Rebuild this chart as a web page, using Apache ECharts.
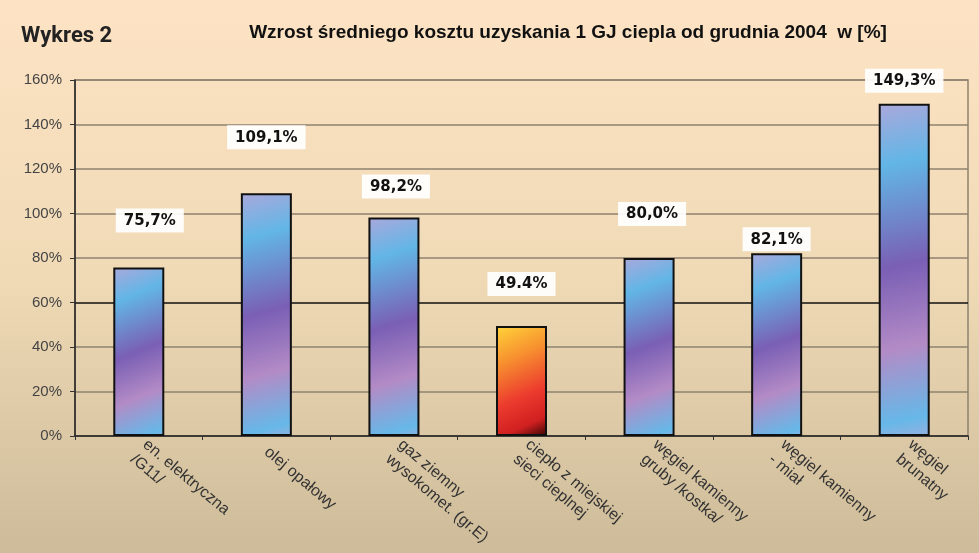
<!DOCTYPE html>
<html>
<head>
<meta charset="UTF-8">
<title>Wykres 2</title>
<script src="https://cdn.jsdelivr.net/npm/echarts@6/dist/echarts.min.js"></script>
<style>
  html, body { margin: 0; padding: 0; }
  #main { width: 979px; height: 553px; }
</style>
</head>
<body>
<div id="main"></div>
<script type="text/javascript">
// dane wykresu
var categories = [
  'en. elektryczna\n/G11/',
  'olej opałowy',
  'gaz ziemny\nwysokomet. (gr.E)',
  'ciepło z miejskiej\nsieci cieplnej',
  'węgiel kamienny\ngruby /kostka/',
  'węgiel kamienny\n- miał',
  'węgiel\nbrunatny'
];
var values = [75.7, 109.1, 98.2, 49.4, 80.0, 82.1, 149.3];
var valueLabels = ['75,7%', '109,1%', '98,2%', '49.4%', '80,0%', '82,1%', '149,3%'];
var yTicks = [0, 20, 40, 60, 80, 100, 120, 140, 160];

// przesuniecia etykiet (jak na oryginale)
var labelOffsets = [[11, -30], [0, -39], [2, -14], [0, -25], [3, -27], [0, 3], [0, -6]];

var myChart = echarts.init(document.getElementById('main'));

var blueFill = new echarts.graphic.LinearGradient(0, 0, 1.3, 1, [
  { offset: 0, color: '#aaa8dc' },
  { offset: 0.18, color: '#62b6e6' },
  { offset: 0.48, color: '#7a5fb5' },
  { offset: 0.72, color: '#b38bc6' },
  { offset: 0.93, color: '#66b8e8' },
  { offset: 1, color: '#9cb0e0' }
]);
var redFill = new echarts.graphic.LinearGradient(0, 0, 1, 1, [
  { offset: 0, color: '#ffd53a' },
  { offset: 0.3, color: '#f7902f' },
  { offset: 0.62, color: '#ec3b2e' },
  { offset: 0.85, color: '#d02020' },
  { offset: 1, color: '#350404' }
]);

// 60% linia jest czarna
var gridColors = yTicks.map(function (t) { return t === 60 ? '#111' : '#8f826f'; });

var barData = values.map(function (v, i) {
  return {
    value: v,
    itemStyle: { color: i === 3 ? redFill : blueFill },
    label: { offset: labelOffsets[i] }
  };
});

var option = {
  backgroundColor: new echarts.graphic.LinearGradient(0, 0, 0, 1, [
    { offset: 0, color: '#fde3c4' },
    { offset: 0.5, color: '#f0dab6' },
    { offset: 1, color: '#cdbb99' }
  ]),
  title: [
    {
      text: 'Wykres 2',
      left: 16,
      top: 20,
      textStyle: { fontFamily: 'Roboto', fontWeight: 'bold', fontSize: 22, color: '#222' }
    },
    {
      text: 'Wzrost średniego kosztu uzyskania 1 GJ ciepla od grudnia 2004  w [%]',
      left: 563,
      textAlign: 'center',
      top: 18,
      textStyle: { fontFamily: 'Liberation Sans', fontWeight: 'bold', fontSize: 19, color: '#111' }
    }
  ],
  grid: {
    left: 75,
    right: 11,
    top: 80,
    bottom: 117,
    show: true,
    borderColor: '#8f826f',
    borderWidth: 1.5,
    backgroundColor: 'transparent'
  },
  xAxis: {
    type: 'category',
    data: categories,
    axisLine: { lineStyle: { color: '#222', width: 1.5 } },
    axisTick: { show: true, length: 4, lineStyle: { color: '#333' } },
    axisLabel: {
      rotate: -40,
      interval: 0,
      margin: 14,
      fontFamily: 'Liberation Sans',
      fontSize: 16,
      lineHeight: 19,
      color: '#333'
    }
  },
  yAxis: {
    type: 'value',
    min: 0,
    max: 160,
    interval: 20,
    axisLine: { show: true, lineStyle: { color: '#222', width: 1.5 } },
    axisTick: { show: true, length: 5, lineStyle: { color: '#333' } },
    axisLabel: {
      formatter: '{value}%',
      margin: 13,
      fontFamily: 'Liberation Sans',
      fontSize: 15,
      color: '#444'
    },
    splitLine: { lineStyle: { color: gridColors, width: 1.5 } }
  },
  series: [
    {
      type: 'bar',
      barWidth: 51,
      data: barData,
      itemStyle: { borderColor: '#111', borderWidth: 2 },
      label: {
        show: true,
        position: 'top',
        distance: 5,
        formatter: function (p) { return valueLabels[p.dataIndex]; },
        backgroundColor: 'rgba(255,255,255,0.92)',
        padding: [5, 8, 4, 8],
        fontFamily: 'DejaVu Sans',
        fontWeight: 'bold',
        fontSize: 15,
        color: '#111'
      }
    }
  ]
};

myChart.setOption(option);
</script>
</body>
</html>
